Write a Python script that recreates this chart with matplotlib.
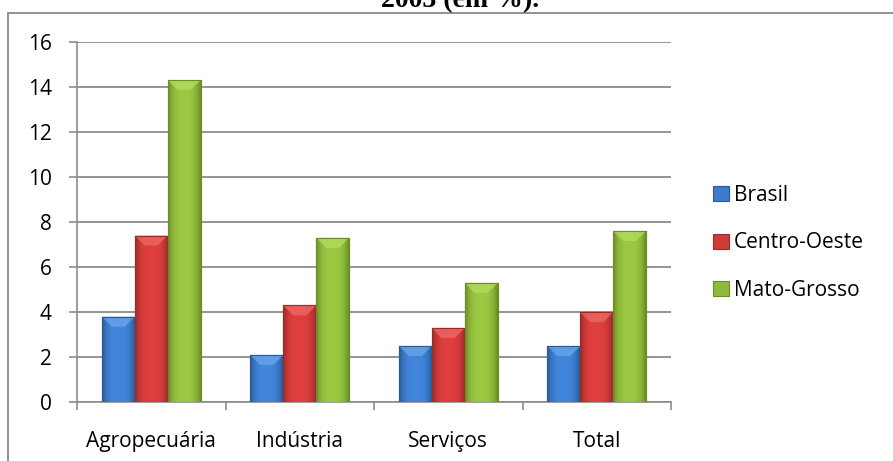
import matplotlib
matplotlib.use("Agg")
import matplotlib.pyplot as plt
import numpy as np
from matplotlib.patches import Rectangle, Polygon
from matplotlib.colors import to_rgb

categories = ["Agropecuária", "Indústria", "Serviços", "Total"]
series_names = ["Brasil", "Centro-Oeste", "Mato-Grosso"]
brasil = [3.8, 2.1, 2.5, 2.5]
centro_oeste = [7.4, 4.3, 3.3, 4.0]
mato_grosso = [14.3, 7.3, 5.3, 7.6]
yticks = [0, 2, 4, 6, 8, 10, 12, 14, 16]
title = "2003 (em %)."

colors = ["#3d7ccc", "#cf3a3a", "#8fba3c"]
edges = ["#2a5a96", "#9c2a28", "#6a8d28"]
bevels = ["#6aa6ec", "#ec6a66", "#b4dc60"]

W, H = 893, 461
fig = plt.figure(figsize=(W / 100, H / 100), dpi=100)
fig.patch.set_facecolor("white")

# outer border (chart frame)
fig.patches.append(Rectangle((8 / W, -0.1), 1.2, 1 - 13 / H + 0.1, transform=fig.transFigure,
                             fill=False, edgecolor="#8a8a8a", linewidth=1.3))

fig.text(460 / W, 1 - 7 / H, title, ha="center", va="baseline",
         fontsize=20, fontweight="bold", family="Liberation Serif")

ax = fig.add_axes([77 / W, 1 - 402.3 / H, (671 - 77) / W, (402.3 - 41.7) / H])
ax.set_facecolor("none")

x = np.arange(len(categories))
bw = 0.222
data = [brasil, centro_oeste, mato_grosso]
ax.set_xlim(-0.5, len(categories) - 0.5)
ax.set_ylim(0, 16)

px_per_unit = (402.3 - 41.7) / 16.0
bevel_depth = 10 / px_per_unit

for i, (vals, c, e, b, name) in enumerate(zip(data, colors, edges, bevels, series_names)):
    bars = ax.bar(x + (i - 1) * bw, vals, width=bw, color=c, edgecolor=e, linewidth=0.8,
                  label=name, zorder=3)
    base = np.array(to_rgb(c))
    dark = np.array(to_rgb(e))
    light = np.clip(base * 1.08, 0, 1)
    t = np.linspace(-1, 1, 64)
    wgt = np.abs(t) ** 3
    grad = (1 - wgt)[:, None] * light[None, :] + wgt[:, None] * dark[None, :]
    img = grad[None, :, :]
    for bar in bars:
        x0, y0 = bar.get_x(), bar.get_y()
        w, h = bar.get_width(), bar.get_height()
        im = ax.imshow(img, extent=[x0, x0 + w, y0, y0 + h], aspect="auto",
                       zorder=3.5, interpolation="bicubic")
        im.set_clip_path(bar)
        poly = Polygon([(x0, y0 + h), (x0 + w, y0 + h),
                        (x0 + w * 0.7, y0 + h - bevel_depth),
                        (x0 + w * 0.3, y0 + h - bevel_depth)],
                       closed=True, facecolor=b, edgecolor="none", alpha=0.75, zorder=3.6)
        ax.add_patch(poly)
        ax.add_patch(Rectangle((x0, y0), w, h, fill=False, edgecolor=e,
                               linewidth=0.8, zorder=3.7))

ax.set_xlim(-0.5, len(categories) - 0.5)
ax.set_ylim(0, 16)
ax.set_yticks(yticks)
ax.set_yticklabels([str(t) for t in yticks])
ax.yaxis.grid(True, color="#8c8c8c", linewidth=1.3, zorder=0)
ax.set_axisbelow(True)

ax.set_xticks(np.arange(-0.5, len(categories), 1.0))
ax.set_xticklabels([])
ax.set_xticks(x, minor=True)
ax.set_xticklabels(categories, minor=True)
ax.tick_params(axis="x", which="major", length=6, width=1.2, color="#8c8c8c", direction="out")
ax.tick_params(axis="x", which="minor", length=0, pad=21)
ax.tick_params(axis="y", length=6, width=1.2, color="#8c8c8c", direction="out", pad=12)

for lab in ax.get_xticklabels(minor=True) + ax.get_yticklabels():
    lab.set_family("Open Sans")
    lab.set_fontsize(15)
    lab.set_color("#000000")

for s in ["top", "right"]:
    ax.spines[s].set_visible(False)
for s in ["left", "bottom"]:
    ax.spines[s].set_color("#8c8c8c")
    ax.spines[s].set_linewidth(1.2)

leg = fig.legend(loc="upper left", bbox_to_anchor=(713 / W, 1 - 185 / H),
                 frameon=False, prop={"family": "Open Sans", "size": 15},
                 handlelength=0.75, handleheight=0.75, handletextpad=0.25,
                 labelspacing=1.27, borderaxespad=0, borderpad=0)

fig.savefig("out.png", dpi=100)
